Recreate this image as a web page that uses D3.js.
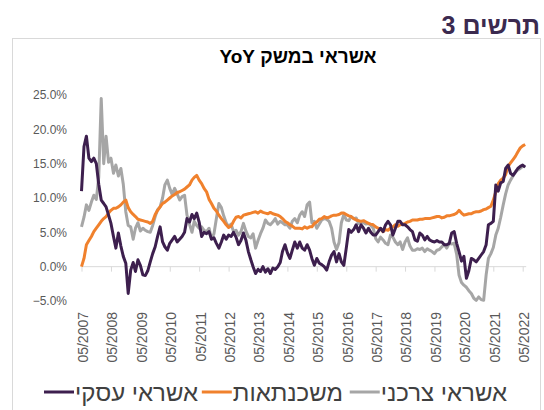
<!DOCTYPE html>
<html>
<head>
<meta charset="utf-8">
<script src="https://cdn.jsdelivr.net/npm/d3@7"></script>
<style>
  body { margin: 0; background: #fff; }
  svg { display: block; font-family: "Liberation Sans", Arial, sans-serif; }
</style>
</head>
<body>
<svg></svg>
<script>
// monthly YoY growth, 05/2007 - 06/2022 (percent)
var startMonth = "2007-05";

var business = [
  11.0, 17.5, 19.0, 15.8, 15.3, 15.8, 15.0, 12.0, 9.7, 9.2, 8.7, 7.5,
  6.3, 4.4, 2.7, 4.9, 3.0, 1.5, 0.5, -3.9, -0.5, 0.6, -0.7, 1.0,
  0.2, -1.2, -1.3, -0.6, 0.7, 1.9, 2.9, 4.4, 5.8, 3.6, 2.9, 2.4,
  3.4, 3.9, 4.4, 3.6, 4.0, 4.4, 5.0, 7.0, 6.5, 7.6, 7.0, 7.8,
  6.5, 4.4, 5.0, 4.8, 5.1, 4.0, 4.2, 3.4, 2.7, 3.6, 4.6, 4.0,
  4.6, 4.4, 5.0, 4.3, 3.2, 3.8, 4.9, 3.9, 2.2, 1.0, 0.0, -1.0,
  -0.4, -0.7, 0.0, -0.8, -0.3, -1.0, -0.2, -0.4, 0.0, 0.6, 2.2, 3.2,
  2.0, 1.2, 2.4, 3.6, 2.7, 3.6, 2.7, 2.4, 3.2, 2.4, 1.2, 0.2,
  1.2, 0.5, 0.3, 0.0, -0.5, 0.7, 1.7, 2.2, 0.7, 1.9, 0.7, 0.2,
  2.7, 5.4, 5.0, 5.4, 6.1, 5.1, 6.1, 5.6, 4.9, 5.6, 5.0, 4.6,
  4.6, 5.1, 5.6, 5.1, 6.1, 6.6, 6.1, 4.6, 5.6, 6.6, 6.6, 6.1,
  6.1, 5.8, 5.4, 5.1, 3.9, 3.7, 4.9, 4.6, 3.9, 4.4, 3.9, 3.7,
  3.6, 3.8, 3.6, 3.6, 3.2, 3.2, 3.4, 4.9, 5.1, 3.4, 2.2, 0.8,
  1.5, -1.7, -0.6, 1.2, 1.0, 0.7, 1.2, 1.7, 2.2, 3.2, 6.1, 6.3,
  6.6, 11.9, 11.0, 12.2, 12.4, 14.3, 14.8, 13.6, 13.3, 13.8, 14.3, 14.6,
  14.8, 14.5
];

var mortgages = [
  0.0, 1.2, 3.2, 3.8, 4.4, 5.1, 5.6, 6.1, 6.6, 7.0, 7.3, 7.8,
  8.2, 8.5, 8.5, 8.7, 9.0, 9.4, 9.7, 8.6, 8.0, 7.6, 7.3, 6.9,
  6.8, 6.7, 6.6, 6.5, 6.3, 6.6, 7.6, 8.2, 8.7, 9.2, 9.4, 9.7,
  10.0, 10.3, 10.5, 10.8, 10.9, 11.1, 11.3, 11.6, 11.9, 12.6, 13.0, 13.3,
  12.6, 12.1, 11.4, 10.9, 9.8, 9.2, 8.5, 8.1, 7.5, 7.0, 6.6, 6.1,
  5.7, 5.9, 6.6, 7.2, 7.3, 7.1, 7.5, 7.6, 7.7, 7.8, 7.9, 8.0,
  7.8, 8.1, 7.9, 7.8, 7.7, 7.9, 7.7, 7.6, 7.5, 7.3, 7.0, 6.6,
  6.4, 6.1, 5.9, 5.6, 5.6, 5.6, 5.5, 5.8, 5.6, 5.8, 5.8, 6.3,
  6.5, 6.9, 7.0, 7.3, 7.1, 7.2, 7.4, 7.5, 7.5, 7.6, 7.8, 7.8,
  7.6, 7.4, 7.3, 7.0, 6.8, 6.7, 6.6, 6.7, 6.5, 6.3, 6.2, 6.1,
  5.8, 5.6, 5.5, 5.1, 5.4, 5.3, 5.6, 5.8, 6.1, 5.9, 6.1, 6.2,
  6.3, 6.5, 6.6, 6.8, 6.8, 6.8, 6.9, 6.9, 7.0, 7.0, 7.0, 7.1,
  7.2, 7.3, 7.3, 7.1, 7.2, 7.4, 7.4, 7.5, 7.6, 7.8, 8.2, 7.8,
  7.5, 7.6, 7.7, 7.7, 7.9, 8.0, 8.0, 8.1, 8.3, 8.4, 8.6, 8.8,
  9.7, 10.9, 12.1, 12.6, 12.9, 13.4, 14.6, 15.1, 15.6, 16.1, 16.7, 17.3,
  17.6, 17.8
];

var consumer = [
  5.8, 7.2, 9.0, 8.2, 9.4, 10.4, 9.8, 13.0, 24.5, 15.0, 19.0, 15.2,
  15.8, 13.6, 14.8, 13.2, 14.3, 12.0, 8.0, 6.0, 5.8, 4.0, 5.6, 6.4,
  5.2, 5.6, 5.3, 5.1, 5.0, 6.0, 7.3, 8.3, 8.7, 10.0, 11.9, 12.6,
  11.4, 10.5, 11.4, 10.6, 9.7, 10.2, 10.4, 7.5, 6.2, 5.0, 6.6, 6.0,
  5.6, 5.8, 5.3, 5.1, 5.6, 4.1, 4.8, 7.0, 9.2, 8.6, 7.4, 6.4,
  5.8, 6.2, 5.1, 5.3, 4.6, 5.1, 6.3, 5.2, 4.4, 4.2, 4.8, 2.7,
  3.8, 4.8, 5.6, 6.8, 6.3, 6.1, 6.5, 7.0, 6.2, 6.6, 6.4, 6.1,
  6.1, 5.6, 6.6, 7.0, 6.4, 7.5, 8.0, 7.3, 9.0, 9.4, 6.4, 6.6,
  5.6, 6.2, 6.8, 7.0, 6.9, 6.6, 5.6, 3.6, 2.5, 3.5, 6.4, 7.6,
  6.8, 6.7, 7.3, 7.0, 7.1, 6.3, 6.6, 6.4, 6.2, 6.3, 6.0, 5.6,
  4.1, 3.6, 4.3, 3.9, 3.4, 3.2, 4.6, 4.3, 3.6, 3.2, 3.6, 2.5,
  3.6, 4.2, 3.0, 2.4, 2.4, 2.6, 2.5, 2.7, 2.2, 2.6, 2.4, 2.2,
  1.9, 2.4, 2.5, 2.9, 3.2, 2.7, 3.4, 3.3, 3.4, 1.8, -1.2, -2.3,
  -2.7, -3.0, -3.5, -3.9, -4.6, -4.9, -4.4, -4.8, -4.9, -1.2, 1.2, 1.9,
  2.8, 4.6, 5.6, 7.2, 9.0, 10.6, 11.9, 12.6, 13.2, 13.8, 14.1, 14.3,
  14.6, 14.6
];

var seriesNames = ["אשראי עסקי", "משכנתאות", "אשראי צרכני"];
var seriesColors = ["#3d1f4e", "#f0812d", "#a6a6a6"];
var yTicks = [-5, 0, 5, 10, 15, 20, 25];
var tickYears = [2007, 2008, 2009, 2010, 2011, 2012, 2013, 2014, 2015, 2016, 2017, 2018, 2019, 2020, 2021, 2022];
var chartNumber = "תרשים 3";
var chartTitle = "אשראי במשק YoY";

function chart() {
    var width = 544,
        height = 410;

    var svg = d3.select("svg")
        .attr("width", width)
        .attr("height", height);

    svg.selectAll("*").remove();

    var start = d3.timeParse("%Y-%m")(startMonth);
    var dateOf = function(i) { return d3.timeMonth.offset(start, i); };

    var x = d3.scaleTime()
        .domain([new Date(2007, 4, 1), new Date(2022, 4, 1)])
        .range([81.5, 522.7]);
    var y = d3.scaleLinear()
        .domain([-5, 25])
        .range([301, 95]);

    // frame
    svg.append("rect")
        .attr("x", 12.5).attr("y", 38.5)
        .attr("width", 528).attr("height", 400)
        .attr("fill", "none")
        .attr("stroke", "#d9d9d9");

    svg.append("text")
        .attr("x", 540).attr("y", 34)
        .attr("direction", "rtl")
        .attr("text-anchor", "start")
        .attr("font-size", 25).attr("font-weight", "bold")
        .attr("fill", "#3b2a4f")
        .text(chartNumber);

    svg.append("text")
        .attr("x", 298).attr("y", 63)
        .attr("direction", "rtl")
        .attr("text-anchor", "middle")
        .attr("font-size", 19).attr("font-weight", "bold")
        .attr("fill", "#000")
        .text(chartTitle);

    // y labels
    svg.selectAll(".ylab")
        .data(yTicks)
        .enter().append("text")
        .attr("class", "ylab")
        .attr("x", 67)
        .attr("y", function(d) { return y(d); })
        .attr("dy", "0.35em")
        .attr("text-anchor", "end")
        .attr("font-size", 12)
        .attr("fill", "#595959")
        .text(function(d) { return d3.format(".1%")(d / 100); });

    // zero axis with year ticks
    var ticks = tickYears.map(function(yr) { return new Date(yr, 4, 1); });
    var axis = d3.axisBottom(x)
        .tickValues(ticks)
        .tickSize(5)
        .tickFormat("");
    var ax = svg.append("g")
        .attr("transform", "translate(0," + y(0) + ")")
        .call(axis);
    ax.select(".domain")
        .attr("d", "M" + x(ticks[0]) + ",0H" + (x(dateOf(business.length - 1)) + 1))
        .attr("stroke", "#d9d9d9");
    ax.selectAll(".tick line").attr("stroke", "#d9d9d9");

    svg.selectAll(".xlab")
        .data(ticks)
        .enter().append("text")
        .attr("class", "xlab")
        .attr("transform", function(d) { return "translate(" + (x(d) + 1.5) + ",312) rotate(-90)"; })
        .attr("dy", "0.35em")
        .attr("text-anchor", "end")
        .attr("font-size", 14)
        .attr("fill", "#595959")
        .text(d3.timeFormat("%m/%Y"));

    var line = d3.line()
        .x(function(d, i) { return x(dateOf(i)); })
        .y(function(d) { return y(d); });

    // draw order: consumer, mortgages, business on top
    var series = [business, mortgages, consumer];
    [2, 1, 0].forEach(function(k) {
        svg.append("path")
            .datum(series[k])
            .attr("d", line)
            .attr("fill", "none")
            .attr("stroke", seriesColors[k])
            .attr("stroke-width", 3)
            .attr("stroke-linejoin", "round");
    });

    // legend: each entry is right-aligned text with its line just left of it
    var legendRight = [198, 343, 507];
    [0, 1, 2].forEach(function(k) {
        var t = svg.append("text")
            .attr("x", legendRight[k]).attr("y", 393)
            .attr("dy", "0.35em")
            .attr("direction", "rtl")
            .attr("text-anchor", "start")
            .attr("font-size", 24)
            .attr("fill", "#404040")
            .text(seriesNames[k]);
        var left = legendRight[k] - t.node().getComputedTextLength();
        svg.append("line")
            .attr("x1", left - 31).attr("x2", left - 1)
            .attr("y1", 392).attr("y2", 392)
            .attr("stroke", seriesColors[k])
            .attr("stroke-width", 3);
    });
}

chart();
</script>
</body>
</html>
